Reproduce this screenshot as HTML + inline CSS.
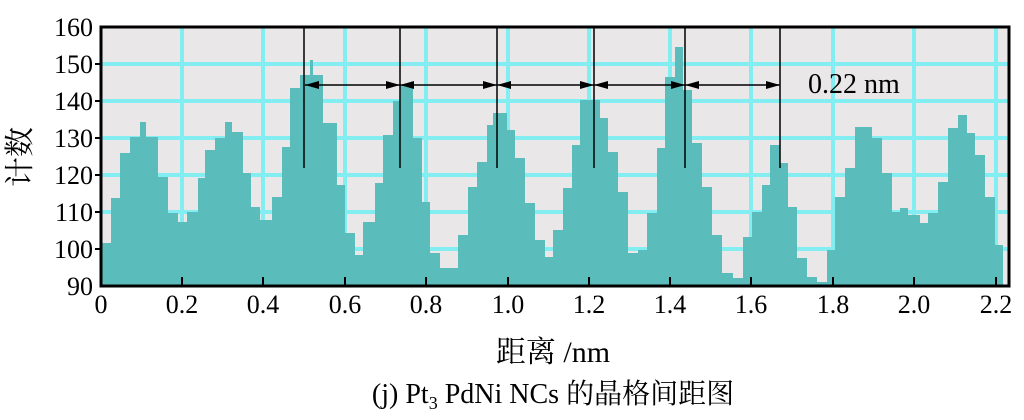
<!DOCTYPE html>
<html><head><meta charset="utf-8"><style>
html,body{margin:0;padding:0;background:#fff;}
svg{display:block;font-family:"Liberation Serif","Noto Serif CJK SC","Noto Sans CJK SC",serif;}
</style></head><body>
<svg width="1024" height="420" viewBox="0 0 1024 420" xmlns="http://www.w3.org/2000/svg">
<rect x="101" y="27" width="908" height="259" fill="#e9e7e7"/>
<g stroke="#82eef2" stroke-width="4">
<line x1="182" y1="27" x2="182" y2="286"/><line x1="263" y1="27" x2="263" y2="286"/>
<line x1="345" y1="27" x2="345" y2="286"/><line x1="426" y1="27" x2="426" y2="286"/>
<line x1="508" y1="27" x2="508" y2="286"/><line x1="589" y1="27" x2="589" y2="286"/>
<line x1="670" y1="27" x2="670" y2="286"/><line x1="751" y1="27" x2="751" y2="286"/>
<line x1="833" y1="27" x2="833" y2="286"/><line x1="914" y1="27" x2="914" y2="286"/>
<line x1="996" y1="27" x2="996" y2="286"/>
<line x1="101" y1="64" x2="1009" y2="64"/><line x1="101" y1="101" x2="1009" y2="101"/>
<line x1="101" y1="138" x2="1009" y2="138"/><line x1="101" y1="175" x2="1009" y2="175"/>
<line x1="101" y1="212" x2="1009" y2="212"/><line x1="101" y1="249" x2="1009" y2="249"/>
</g>
<polygon fill="#5bbcbc" points="101,286 101,243 111,243 111,198 120,198 120,153 130,153 130,137 140,137 140,122 146,122 146,137 158,137 158,177 168,177 168,213 178,213 178,222 187,222 187,212 198,212 198,178 205,178 205,150 215,150 215,138 225,138 225,122 232,122 232,132 243,132 243,173 251,173 251,207 260,207 260,220 272,220 272,197 282,197 282,147 290,147 290,88 300,88 300,75 310,75 310,60 313,60 313,75 323,75 323,123 337,123 337,185 345,185 345,233 355,233 355,255 363,255 363,222 375,222 375,183 383,183 383,135 393,135 393,101 400,101 400,85 413,85 413,138 422,138 422,202 430,202 430,253 440,253 440,268 458,268 458,235 468,235 468,187 477,187 477,162 487,162 487,125 493,125 493,113 507,113 507,130 515,130 515,158 525,158 525,203 535,203 535,240 545,240 545,257 553,257 553,230 563,230 563,188 572,188 572,145 580,145 580,100 600,100 600,118 608,118 608,152 618,152 618,192 628,192 628,253 638,253 638,250 647,250 647,213 657,213 657,148 665,148 665,77 675,77 675,47 683,47 683,90 692,90 692,143 702,143 702,187 712,187 712,235 722,235 722,273 733,273 733,278 743,278 743,237 752,237 752,212 762,212 762,185 770,185 770,145 780,145 780,163 788,163 788,207 797,207 797,258 807,258 807,277 817,277 817,282 827,282 827,250 835,250 835,197 845,197 845,168 855,168 855,127 872,127 872,138 882,138 882,173 892,173 892,212 900,212 900,208 908,208 908,215 920,215 920,223 928,223 928,213 938,213 938,182 948,182 948,128 958,128 958,115 967,115 967,133 975,133 975,155 985,155 985,197 995,197 995,245 1003,245 1003,286"/>
<g stroke="#000" stroke-width="1.5">
<line x1="304" y1="27" x2="304" y2="168"/><line x1="400" y1="27" x2="400" y2="168"/>
<line x1="497" y1="27" x2="497" y2="168"/><line x1="594" y1="27" x2="594" y2="168"/>
<line x1="685" y1="27" x2="685" y2="168"/><line x1="780" y1="27" x2="780" y2="168"/>
<line x1="305" y1="85" x2="780" y2="85"/>
</g>
<g fill="#000">
<polygon points="305,85 319,81 319,89"/>
<polygon points="400,85 386,81 386,89"/><polygon points="400,85 414,81 414,89"/>
<polygon points="497,85 483,81 483,89"/><polygon points="497,85 511,81 511,89"/>
<polygon points="594,85 580,81 580,89"/><polygon points="594,85 608,81 608,89"/>
<polygon points="685,85 671,81 671,89"/><polygon points="685,85 699,81 699,89"/>
<polygon points="780,85 766,81 766,89"/>
</g>
<text x="808" y="93" font-size="28">0.22 nm</text>
<rect x="101" y="27" width="908" height="259" fill="none" stroke="#000" stroke-width="3"/>
<g stroke="#000" stroke-width="2">
<line x1="182" y1="286" x2="182" y2="277"/><line x1="263" y1="286" x2="263" y2="277"/>
<line x1="345" y1="286" x2="345" y2="277"/><line x1="426" y1="286" x2="426" y2="277"/>
<line x1="508" y1="286" x2="508" y2="277"/><line x1="589" y1="286" x2="589" y2="277"/>
<line x1="670" y1="286" x2="670" y2="277"/><line x1="751" y1="286" x2="751" y2="277"/>
<line x1="833" y1="286" x2="833" y2="277"/><line x1="914" y1="286" x2="914" y2="277"/>
<line x1="996" y1="286" x2="996" y2="277"/>
<line x1="101" y1="64" x2="95" y2="64"/><line x1="101" y1="101" x2="95" y2="101"/>
<line x1="101" y1="138" x2="95" y2="138"/><line x1="101" y1="175" x2="95" y2="175"/>
<line x1="101" y1="212" x2="95" y2="212"/><line x1="101" y1="249" x2="95" y2="249"/>
</g>
<g font-size="26" text-anchor="end">
<text x="93" y="36">160</text><text x="93" y="73">150</text><text x="93" y="110">140</text>
<text x="93" y="147">130</text><text x="93" y="184">120</text><text x="93" y="221">110</text>
<text x="93" y="258">100</text><text x="93" y="295">90</text>
</g>
<g font-size="26" text-anchor="middle">
<text x="101" y="313">0</text><text x="182" y="313">0.2</text><text x="263" y="313">0.4</text>
<text x="345" y="313">0.6</text><text x="426" y="313">0.8</text><text x="508" y="313">1.0</text>
<text x="589" y="313">1.2</text><text x="670" y="313">1.4</text><text x="751" y="313">1.6</text>
<text x="833" y="313">1.8</text><text x="914" y="313">2.0</text><text x="996" y="313">2.2</text>
</g>
<text x="553" y="362" font-size="30" text-anchor="middle">距离 /nm</text>
<text x="553" y="403" font-size="28" text-anchor="middle">(j) Pt<tspan font-size="18" dy="6">3</tspan><tspan dy="-6"> PdNi NCs 的晶格间距图</tspan></text>
<text transform="translate(30,157) rotate(-90)" font-size="30" text-anchor="middle">计数</text>
</svg>
</body></html>
